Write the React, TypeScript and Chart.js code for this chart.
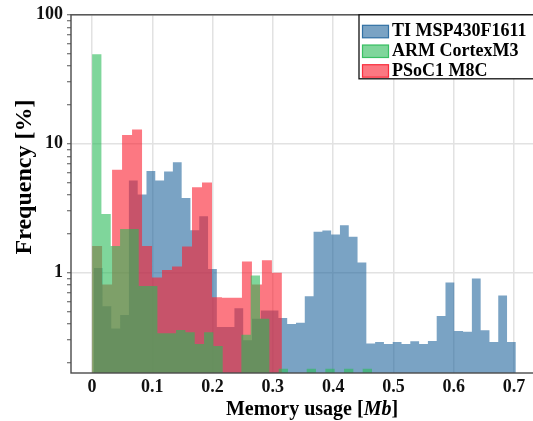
import { useEffect, useRef } from "react";
import { Chart, registerables } from "chart.js";

Chart.register(...registerables);

// Histogram data: each series has its own bin range and per-bin frequency [%]
const SERIES_LABELS = ["TI MSP430F1611", "ARM CortexM3", "PSoC1 M8C"];

const TI_RANGE = [0.0027, 0.7032];
const TI_FREQ = [
  1.09, 0.55, 0.37, 0.47, 5.2, 4.05, 6.15, 5.2, 6.1, 7.2, 3.79, 2.14,
  2.74, 1.07, 0.38, 0.38, 0.53, 0.3, 0.44, 0.51, 0.51, 0.445, 0.4, 0.41,
  0.657, 2.08, 2.13, 1.98, 2.34, 1.9, 1.2, 0.283, 0.291, 0.28, 0.291, 0.28,
  0.295, 0.28, 0.296, 0.461, 0.842, 0.354, 0.348, 0.904, 0.358, 0.29, 0.666, 0.291,
];

const ARM_RANGE = [0, 0.4645];
const ARM_FREQ = [
  49.5, 2.86, 1.61, 2.18, 2.18, 0.79, 0.79, 0.34, 0.34, 0.36, 0.345, 0.28,
  0.345, 0.27, 0, 0, 0.33, 0.95, 0.44, 0, 0.18, 0, 0, 0.18,
  0, 0.18, 0, 0.18, 0, 0.18,
];

const PSOC_RANGE = [0, 0.315];
const PSOC_FREQ = [
  1.61, 0.81, 6.3, 11.7, 12.9, 1.61, 0.92, 1.05, 1.12, 1.6, 4.6, 5.0,
  0.646, 0.64, 0.64, 1.22, 0.81, 1.25, 1.0,
];

const X_TICKS = [0, 0.1, 0.2, 0.3, 0.4, 0.5, 0.6, 0.7];
const X_TICK_LABELS = ["0", "0.1", "0.2", "0.3", "0.4", "0.5", "0.6", "0.7"];
const Y_MAJOR = [1, 10, 100];
const Y_MAJOR_LABELS = ["1", "10", "100"];
const Y_MINOR = [
  0.2, 0.3, 0.4, 0.5, 0.6, 0.7, 0.8, 0.9,
  2, 3, 4, 5, 6, 7, 8, 9,
  20, 30, 40, 50, 60, 70, 80, 90,
];

const SERIF = '"Liberation Serif", "Times New Roman", serif';
const FILLS = ["rgba(33, 102, 157, 0.6)", "rgba(42, 187, 88, 0.6)", "rgba(250, 30, 47, 0.6)"];
const EDGES = ["rgba(33, 102, 157, 0.9)", "rgba(42, 187, 88, 0.9)", "rgba(250, 30, 47, 0.9)"];

// empty bins are pushed below the visible log range
const EMPTY = 0.01;

function histogramSteps(range: number[], freq: number[]) {
  const [lo, hi] = range;
  const w = (hi - lo) / freq.length;
  const pts = freq.map((f, i) => ({ x: lo + i * w, y: f > 0 ? f : EMPTY }));
  const last = freq[freq.length - 1];
  pts.push({ x: hi, y: last > 0 ? last : EMPTY });
  return pts;
}

const decorations = {
  id: "decorations",
  afterDraw(chart: any) {
    const { ctx, chartArea } = chart;
    const { left, top, right, bottom } = chartArea;
    ctx.save();

    // axes frame
    ctx.strokeStyle = "#4a4a4a";
    ctx.lineWidth = 1.4;
    ctx.strokeRect(left, top, right - left, bottom - top);

    // legend box
    const lx = left + 288;
    const ly = top;
    ctx.fillStyle = "#ffffff";
    ctx.fillRect(lx, ly, 200, 64);
    ctx.strokeStyle = "#111111";
    ctx.lineWidth = 1.3;
    ctx.strokeRect(lx, ly, 200, 64);
    ctx.font = `bold 18px ${SERIF}`;
    ctx.textBaseline = "middle";
    ctx.textAlign = "left";
    chart.data.datasets.forEach((ds: any, i: number) => {
      const py = ly + 10.5 + i * 19.7;
      ctx.fillStyle = FILLS[i];
      ctx.fillRect(lx + 3.5, py, 26, 12.5);
      ctx.strokeStyle = EDGES[i];
      ctx.lineWidth = 1.2;
      ctx.strokeRect(lx + 3.5, py, 26, 12.5);
      ctx.fillStyle = "#000";
      ctx.fillText(ds.label, lx + 33, py + 6.5);
    });

    // y axis title
    ctx.save();
    ctx.translate(25, 177);
    ctx.rotate(-Math.PI / 2);
    ctx.font = `bold 24px ${SERIF}`;
    ctx.textAlign = "center";
    ctx.textBaseline = "middle";
    ctx.fillStyle = "#000";
    ctx.fillText("Frequency [%]", 0, 0);
    ctx.restore();

    // x axis title with italic unit
    const parts = [
      { t: "Memory usage [", f: `bold 20px ${SERIF}` },
      { t: "Mb", f: `italic bold 20px ${SERIF}` },
      { t: "]", f: `bold 20px ${SERIF}` },
    ];
    let total = 0;
    parts.forEach((p) => {
      ctx.font = p.f;
      total += ctx.measureText(p.t).width;
    });
    let x = 312 - total / 2;
    ctx.textAlign = "left";
    ctx.textBaseline = "middle";
    ctx.fillStyle = "#000";
    parts.forEach((p) => {
      ctx.font = p.f;
      ctx.fillText(p.t, x, 410);
      x += ctx.measureText(p.t).width;
    });

    ctx.restore();
  },
};

export default function App() {
  const canvasRef = useRef<HTMLCanvasElement | null>(null);

  useEffect(() => {
    const canvas = canvasRef.current;
    if (!canvas) return;

    const mk = (i: number, range: number[], freq: number[], order: number) => ({
      type: "line" as const,
      label: SERIES_LABELS[i],
      data: histogramSteps(range, freq),
      stepped: "before" as const,
      fill: "start",
      backgroundColor: FILLS[i],
      borderColor: "rgba(0,0,0,0)",
      borderWidth: 0,
      pointRadius: 0,
      pointHoverRadius: 0,
      order,
    });

    const chart = new Chart(canvas, {
      type: "line",
      data: {
        datasets: [
          mk(0, TI_RANGE, TI_FREQ, 3),
          mk(1, ARM_RANGE, ARM_FREQ, 1),
          mk(2, PSOC_RANGE, PSOC_FREQ, 2),
        ],
      },
      options: {
        animation: false,
        responsive: false,
        devicePixelRatio: 1,
        parsing: true,
        layout: { padding: { top: 12, right: 10, bottom: 0, left: 0 } },
        plugins: {
          legend: { display: false },
          tooltip: { enabled: false },
        },
        scales: {
          x: {
            type: "linear",
            min: -0.035,
            max: 0.735,
            afterBuildTicks: (s: any) => {
              s.ticks = X_TICKS.map((v) => ({ value: v }));
            },
            afterFit: (s: any) => {
              s.height = 48;
            },
            ticks: {
              autoSkip: false,
              maxRotation: 0,
              padding: 4,
              color: "#111",
              font: { family: SERIF, size: 18, weight: "bold" },
              callback: (_v: any, i: number) => X_TICK_LABELS[i],
            },
            grid: { color: "#e2e2e2", lineWidth: 1.5, drawTicks: false },
            border: { display: false },
          },
          y: {
            type: "logarithmic",
            min: 0.167,
            max: 100,
            afterBuildTicks: (s: any) => {
              s.ticks = [...Y_MINOR, ...Y_MAJOR]
                .sort((a, b) => a - b)
                .map((v) => ({ value: v }));
            },
            afterFit: (s: any) => {
              s.width = 71;
            },
            ticks: {
              autoSkip: false,
              padding: 4,
              color: "#111",
              font: { family: SERIF, size: 18, weight: "bold" },
              callback: (v: any) => {
                const k = Y_MAJOR.indexOf(Number(v));
                return k >= 0 ? Y_MAJOR_LABELS[k] : "";
              },
            },
            grid: {
              color: (c: any) =>
                c.tick && Y_MAJOR.includes(c.tick.value) ? "#e2e2e2" : "rgba(0,0,0,0)",
              lineWidth: 1.5,
              tickColor: "#555",
              tickLength: 4,
              tickWidth: 1,
            },
            border: { display: false },
          },
        },
      },
      plugins: [decorations],
    } as any);

    return () => chart.destroy();
  }, []);

  return (
    <div
      style={{
        position: "fixed",
        left: 0,
        top: 0,
        width: 533,
        height: 421,
        overflow: "hidden",
        background: "#fff",
      }}
    >
      <canvas
        ref={canvasRef}
        width={545}
        height={421}
        style={{ display: "block", width: 545, height: 421 }}
      />
    </div>
  );
}
